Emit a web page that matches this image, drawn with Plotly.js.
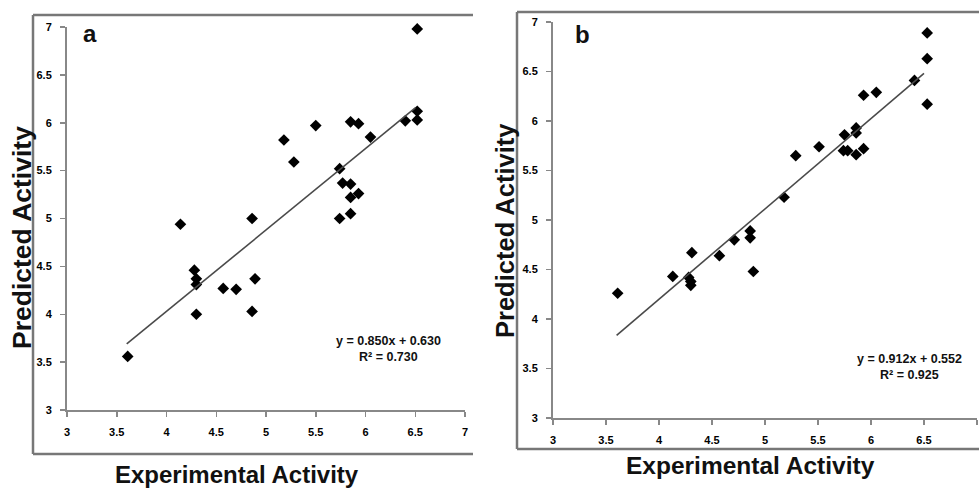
<!DOCTYPE html>
<html><head><meta charset="utf-8">
<script src="https://cdn.plot.ly/plotly-3.0.1.min.js"></script>
<style>html,body{margin:0;padding:0;background:#fff}#chart{width:979px;height:490px}</style>
</head><body><div id="chart"></div>
<script>
// Panel a data
const expA = [3.61, 4.14, 4.28, 4.30, 4.30, 4.30, 4.57, 4.70, 4.86, 4.86, 4.89, 5.18, 5.28, 5.50, 5.74, 5.74, 5.77, 5.85, 5.85, 5.85, 5.85, 5.93, 5.93, 6.05, 6.40, 6.52, 6.52, 6.52];
const predA = [3.56, 4.94, 4.46, 4.37, 4.31, 4.00, 4.27, 4.26, 5.00, 4.03, 4.37, 5.82, 5.59, 5.97, 5.52, 5.00, 5.37, 5.36, 5.22, 5.05, 6.01, 5.26, 5.99, 5.85, 6.02, 6.98, 6.12, 6.03];
// Panel b data
const expB = [3.61, 4.13, 4.28, 4.30, 4.30, 4.31, 4.57, 4.71, 4.86, 4.86, 4.89, 5.18, 5.29, 5.51, 5.74, 5.75, 5.78, 5.86, 5.86, 5.86, 5.93, 5.93, 6.05, 6.41, 6.53, 6.53, 6.53];
const predB = [4.26, 4.43, 4.42, 4.38, 4.34, 4.67, 4.64, 4.80, 4.89, 4.82, 4.48, 5.23, 5.65, 5.74, 5.70, 5.86, 5.70, 5.93, 5.88, 5.66, 5.72, 6.26, 6.29, 6.41, 6.89, 6.63, 6.17];
// Trend lines (from the equations shown)
const fitA = {slope: 0.850, intercept: 0.630, r2: 0.730};
const fitB = {slope: 0.912, intercept: 0.552, r2: 0.925};
const fitRange = [3.6, 6.5];
const tickVals = [3, 3.5, 4, 4.5, 5, 5.5, 6, 6.5, 7];
const tickText = ["3", "3.5", "4", "4.5", "5", "5.5", "6", "6.5", "7"];
const panelLabels = ["a", "b"];
const xTitle = "Experimental Activity";
const yTitle = "Predicted Activity";

const W = 979, H = 490;
const px = v => v / W, py = v => 1 - v / H;
const FONT = "Arial, 'Liberation Sans', sans-serif";
const mk = {symbol: 'diamond', size: 9, color: '#000'};
const lineStyle = {color: '#4a4a4a', width: 1.6};

function fitLine(f) { return fitRange.map(x => f.slope * x + f.intercept); }

const traces = [
  {x: expA, y: predA, type: 'scatter', mode: 'markers', marker: mk, xaxis: 'x', yaxis: 'y', cliponaxis: false},
  {x: fitRange, y: fitLine(fitA), type: 'scatter', mode: 'lines', line: lineStyle, xaxis: 'x', yaxis: 'y'},
  {x: expB, y: predB, type: 'scatter', mode: 'markers', marker: mk, xaxis: 'x2', yaxis: 'y2', cliponaxis: false},
  {x: fitRange, y: fitLine(fitB), type: 'scatter', mode: 'lines', line: lineStyle, xaxis: 'x2', yaxis: 'y2'}
];

const axBase = {
  range: [3, 7], tickmode: 'array', tickvals: tickVals, ticktext: tickText.map(t => '<b>' + t + '</b>'),
  showgrid: false, zeroline: false, showline: true, linecolor: '#888', linewidth: 2,
  ticks: 'outside', ticklen: 5, tickwidth: 1.5, tickcolor: '#888',
  tickfont: {family: FONT, size: 11, color: '#000', weight: 'bold'}
};

const eqText = f => 'y = ' + f.slope.toFixed(3) + 'x + ' + f.intercept.toFixed(3);
const r2Text = f => 'R² = ' + f.r2.toFixed(3);

const ann = (x, y, text, size, extra) => Object.assign({
  xref: 'paper', yref: 'paper', x: px(x), y: py(y), text: '<b>' + text + '</b>', showarrow: false,
  xanchor: 'center', yanchor: 'middle',
  font: {family: FONT, size: size, color: '#111'}
}, extra || {});

const layout = {
  width: W, height: H, margin: {l: 0, r: 0, t: 0, b: 0},
  paper_bgcolor: '#fff', plot_bgcolor: 'rgba(0,0,0,0)', showlegend: false,
  xaxis: Object.assign({}, axBase, {domain: [px(67), px(465)], anchor: 'y', ticklabelstandoff: 6}),
  yaxis: Object.assign({}, axBase, {domain: [py(410), py(27)], anchor: 'x', ticklabelstandoff: 6}),
  xaxis2: Object.assign({}, axBase, {domain: [px(553), px(977)], anchor: 'y2', ticklabelstandoff: 6}),
  yaxis2: Object.assign({}, axBase, {domain: [py(418), py(22)], anchor: 'x2', ticklabelstandoff: 6}),
  shapes: [
    // frame a
    {type: 'line', xref: 'paper', yref: 'paper', x0: px(33), x1: px(33), y0: py(15), y1: py(454), line: {color: '#777', width: 2.5}},
    {type: 'line', xref: 'paper', yref: 'paper', x0: px(33), x1: px(473), y0: py(15), y1: py(15), line: {color: '#777', width: 2.5}},
    {type: 'line', xref: 'paper', yref: 'paper', x0: px(33), x1: px(473), y0: py(454), y1: py(454), line: {color: '#777', width: 2.5}},
    // frame b
    {type: 'line', xref: 'paper', yref: 'paper', x0: px(517), x1: px(517), y0: py(12), y1: py(449), line: {color: '#777', width: 2.5}},
    {type: 'line', xref: 'paper', yref: 'paper', x0: px(517), x1: px(979), y0: py(12), y1: py(12), line: {color: '#777', width: 2.5}},
    {type: 'line', xref: 'paper', yref: 'paper', x0: px(517), x1: px(979), y0: py(449), y1: py(449), line: {color: '#777', width: 2.5}}
  ],
  annotations: [
    ann(90, 33, panelLabels[0], 24),
    ann(582, 35, panelLabels[1], 24),
    ann(237, 474, xTitle, 24),
    ann(750, 465, xTitle, 24.5),
    ann(22, 238, yTitle, 26.5, {textangle: -90}),
    ann(505, 231, yTitle, 25.5, {textangle: -90}),
    ann(388, 341, eqText(fitA), 12.5),
    ann(388, 357, r2Text(fitA), 12.5),
    ann(909, 359, eqText(fitB), 12.5),
    ann(909, 375, r2Text(fitB), 12.5)
  ]
};

Plotly.newPlot('chart', traces, layout, {displayModeBar: false, staticPlot: true});
</script></body></html>
